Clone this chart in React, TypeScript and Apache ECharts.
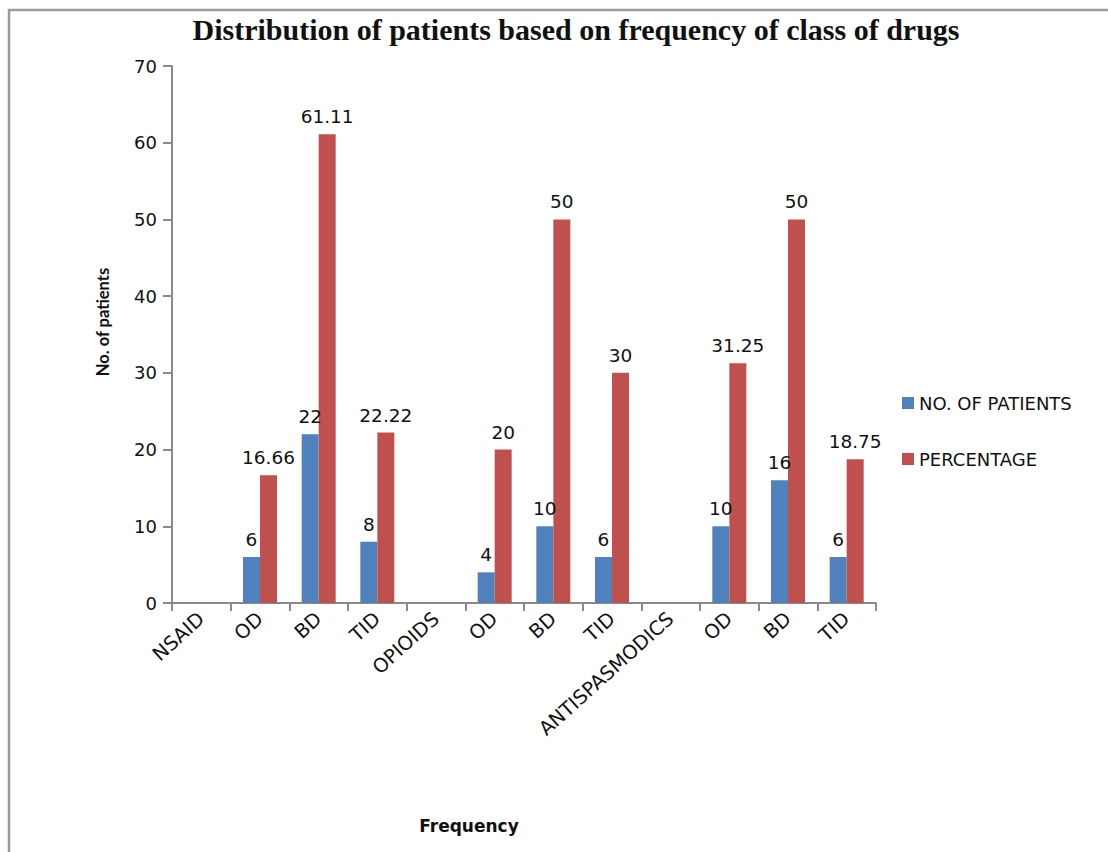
import React, { useEffect, useRef } from "react";
import * as echarts from "echarts";

const categories = [
  "NSAID", "OD", "BD", "TID",
  "OPIOIDS", "OD", "BD", "TID",
  "ANTISPASMODICS", "OD", "BD", "TID",
];
const patients: (number | null)[] = [null, 6, 22, 8, null, 4, 10, 6, null, 10, 16, 6];
const percentage: (number | null)[] = [null, 16.66, 61.11, 22.22, null, 20, 50, 30, null, 31.25, 50, 18.75];
const yTicks = { min: 0, max: 70, interval: 10 };

const BODY_FONT = "'DejaVu Sans', 'Open Sans', sans-serif";
const NAME_FONT = "Lato, 'Open Sans', sans-serif";

export default function App() {
  const ref = useRef<HTMLDivElement>(null);

  useEffect(() => {
    if (!ref.current) return;
    const chart = echarts.init(ref.current, null, { renderer: "svg" });

    const label = {
      show: true,
      position: "top" as const,
      distance: 8,
      color: "#111",
      fontSize: 18.5,
      fontFamily: BODY_FONT,
    };

    chart.setOption({
      animation: false,
      backgroundColor: "#fff",
      title: {
        text: "Distribution of patients based on frequency of class of drugs",
        left: 571,
        top: 9,
        textAlign: "center",
        textStyle: {
          fontFamily: "'Liberation Serif', 'Times New Roman', serif",
          fontWeight: "bold",
          fontSize: 30,
          color: "#111",
        },
      },
      legend: {
        orient: "vertical",
        left: 897,
        top: 389,
        itemWidth: 12,
        itemHeight: 12,
        itemGap: 38,
        icon: "rect",
        textStyle: { fontFamily: BODY_FONT, fontSize: 18, color: "#111" },
        data: ["NO. OF PATIENTS", "PERCENTAGE"],
      },
      grid: { left: 172, top: 66, width: 704, height: 537, containLabel: false },
      xAxis: {
        type: "category",
        data: categories,
        boundaryGap: true,
        axisLine: { lineStyle: { color: "#8a8a8a", width: 2 } },
        axisTick: { show: true, alignWithLabel: false, length: 8, lineStyle: { color: "#8a8a8a", width: 2 } },
        axisLabel: {
          interval: 0,
          rotate: 42,
          margin: 13,
          color: "#111",
          fontSize: 19.5,
          fontFamily: BODY_FONT,
        },
      },
      yAxis: {
        type: "value",
        min: yTicks.min,
        max: yTicks.max,
        interval: yTicks.interval,
        splitLine: { show: false },
        axisLine: { show: true, lineStyle: { color: "#8a8a8a", width: 2 } },
        axisTick: { show: true, length: 9, lineStyle: { color: "#8a8a8a", width: 2 } },
        axisLabel: { margin: 15, color: "#111", fontSize: 18, fontFamily: BODY_FONT },
      },
      series: [
        {
          name: "NO. OF PATIENTS",
          type: "bar",
          data: patients,
          barWidth: 17,
          barGap: "0%",
          itemStyle: { color: "#4F81BD" },
          label,
        },
        {
          name: "PERCENTAGE",
          type: "bar",
          data: percentage,
          barWidth: 17,
          barGap: "0%",
          itemStyle: { color: "#C0504D" },
          label,
        },
      ],
      graphic: [
        {
          type: "rect",
          shape: { x: 9, y: 10, width: 1200, height: 900 },
          style: { fill: "none", stroke: "#9a9a9a", lineWidth: 2.5 },
          silent: true,
        },
        {
          type: "text",
          x: 103,
          y: 322,
          rotation: Math.PI / 2,
          style: {
            text: "No. of patients",
            fontFamily: NAME_FONT,
            fontWeight: "bold",
            fontSize: 16.5,
            fill: "#111",
            align: "center",
            verticalAlign: "middle",
          },
        },
        {
          type: "text",
          x: 469,
          y: 826,
          style: {
            text: "Frequency",
            fontFamily: BODY_FONT,
            fontWeight: "bold",
            fontSize: 17,
            fill: "#111",
            align: "center",
            verticalAlign: "middle",
          },
        },
      ],
    });

    return () => chart.dispose();
  }, []);

  return (
    <div
      ref={ref}
      style={{ position: "fixed", left: 0, top: 0, width: 1108, height: 852 }}
    />
  );
}
